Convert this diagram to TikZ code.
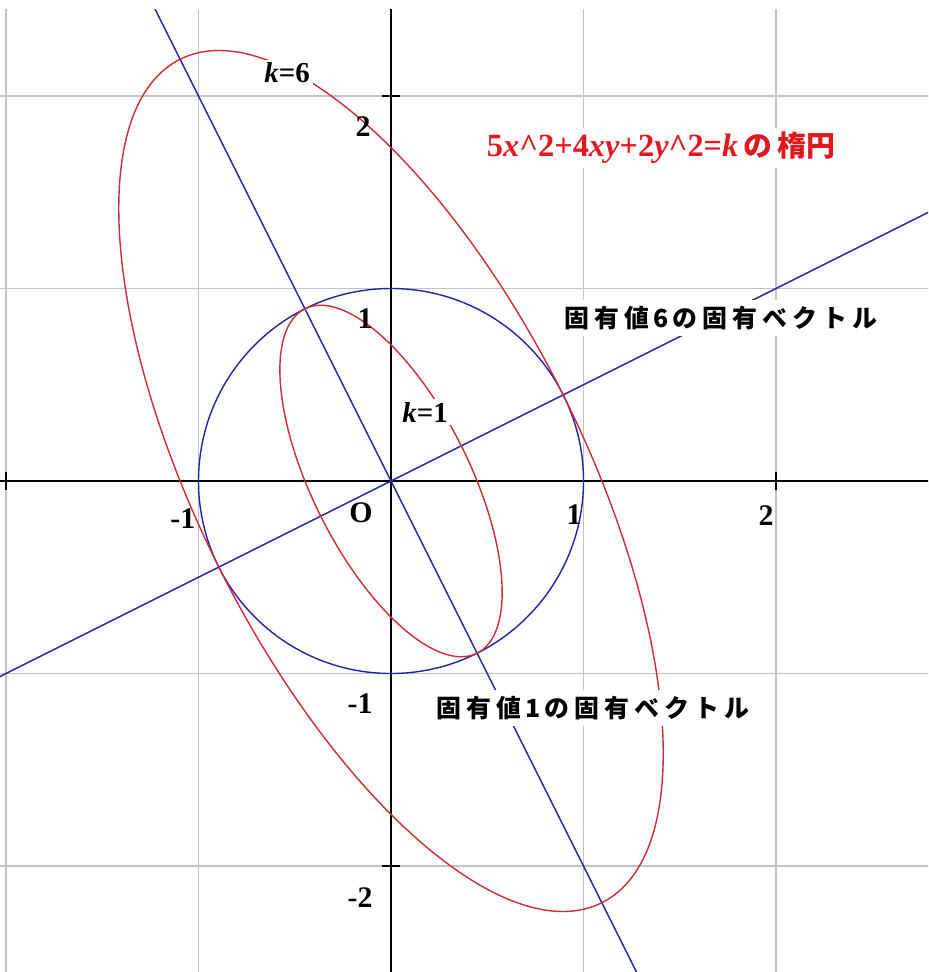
\documentclass[tikz,border=0pt]{standalone}
\usepackage{fontspec}
\setmainfont{Liberation Serif}
\newfontfamily\jp{Noto Sans CJK JP}[LetterSpace=20]
\newfontfamily\jpt{Noto Sans CJK JP}
\definecolor{lblue}{RGB}{35,35,170}
\definecolor{lred}{RGB}{205,45,55}
\definecolor{tred}{RGB}{225,25,30}
\definecolor{gridgray}{RGB}{195,195,195}
\begin{document}
\begin{tikzpicture}[x=192.5bp,y=192.5bp,
  gridline/.style={draw=gridgray,line width=1.6bp},
  axisline/.style={draw=black,line width=1.8bp},
  bluecurve/.style={draw=lblue,line width=1.4bp},
  redcurve/.style={draw=lred,line width=1.4bp},
  num/.style={font=\fontsize{30}{30}\selectfont\bfseries,inner sep=0pt},
  klabel/.style={font=\fontsize{29}{29}\selectfont\bfseries,fill=white,inner sep=3bp},
  jlabel/.style={font=\fontsize{25}{25}\selectfont\jp\bfseries,fill=white,inner sep=6bp},
  titlelabel/.style={font=\fontsize{32.5}{32.5}\selectfont\bfseries,text=tred,fill=white,inner sep=4bp}]
\fill[white] (-2.0312,-2.5506) rectangle (2.7896,2.4987);
\useasboundingbox (-2.0312,-2.5506) rectangle (2.7896,2.4987);
\begin{scope}
  \clip (-2.0312,-2.5506) rectangle (2.7896,2.4468);
  % grid
  \foreach \gx in {-2,-1,1,2} \draw[gridline] (\gx,-2.6) -- (\gx,2.5);
  \foreach \gy in {-2,-1,1,2} \draw[gridline] (-2.1,\gy) -- (2.8,\gy);
  % axes
  \draw[axisline] (-2.1,0) -- (2.8,0);
  \draw[axisline] (0,-2.6) -- (0,2.5);
  \foreach \t in {-2,-1,1,2} {
    \draw[axisline] (\t,-0.047) -- (\t,0.047);
    \draw[axisline] (-0.047,\t) -- (0.047,\t);
  }
  % unit circle and eigenvector lines
  \draw[bluecurve] (0,0) circle (1);
  \draw[bluecurve] (-2.1,-1.05) -- (2.8,1.4);
  \draw[bluecurve] (-1.3,2.6) -- (1.3,-2.6);
  % ellipses
  \draw[redcurve,rotate=26.565] (0,0) ellipse [x radius=0.40825, y radius=1];
  \draw[redcurve,rotate=26.565] (0,0) ellipse [x radius=1, y radius=2.44949];
\end{scope}
% axis numbers
\node[num] (ym2) at (-0.161,-2.166) {-2};
\node[num] (ym1) at (-0.161,-1.158) {-1};
\node[num] (yp1) at (-0.135,0.842) {1};
\node[num] (yp2) at (-0.145,1.839) {2};
\node[num] (xm1) at (-1.081,-0.197) {-1};
\node[num] (orig) at (-0.156,-0.166) {O};
\node[num] (xp1) at (0.951,-0.177) {1};
\node[num] (xp2) at (1.948,-0.182) {2};
% labels
\node[klabel] (k6) at (-0.540,2.119) {\textit{k}=6};
\node[klabel] (k1) at (0.177,0.358) {\textit{k}=1};
\node[titlelabel] (title) at (1.403,1.730) {5\textit{x}\textasciicircum 2+4\textit{xy}+2\textit{y}\textasciicircum 2=\textit{k}\,{\jpt\fontsize{29}{29}\selectfont の\,楕円}};
\node[jlabel] (ev6) at (1.714,0.847) {固有値\,6\,の固有ベクトル};
\node[jlabel] (ev1) at (1.049,-1.179) {固有値\,1\,の固有ベクトル};
\end{tikzpicture}
\end{document}
